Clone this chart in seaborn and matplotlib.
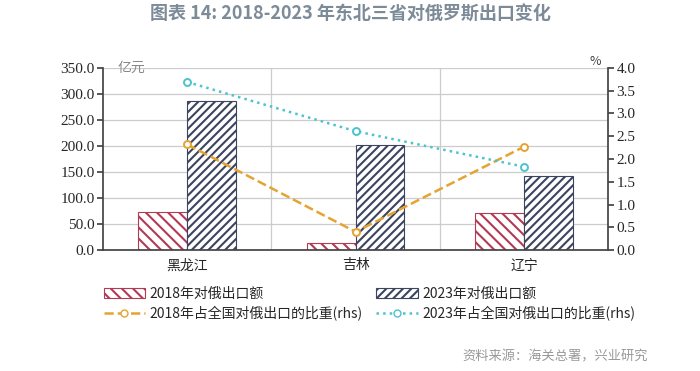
import matplotlib
matplotlib.use("Agg")
import matplotlib.pyplot as plt
import pandas as pd
import seaborn as sns
from matplotlib.patches import Patch
from matplotlib.lines import Line2D

provinces = ["黑龙江", "吉林", "辽宁"]
export_2018 = [73.0, 14.0, 72.0]
export_2023 = [287.0, 201.0, 143.0]
share_2018 = [2.32, 0.40, 2.27]
share_2023 = [3.69, 2.61, 1.83]

left_ticks = [0, 50, 100, 150, 200, 250, 300, 350]
right_ticks = [0, 0.5, 1.0, 1.5, 2.0, 2.5, 3.0, 3.5, 4.0]

RED = "#b23a55"
NAVY = "#3b4560"
ORANGE = "#e5a432"
CYAN = "#4cc3cf"
GRID = "#cccccc"
TITLE_GRAY = "#7d8b99"
HATCH_2018 = "\\\\\\"
HATCH_2023 = "////"

sns.set_theme(style="white")
plt.rcParams["font.family"] = ["Noto Sans CJK SC", "DejaVu Sans"]
plt.rcParams["hatch.linewidth"] = 1.5

df = pd.DataFrame({
    "province": provinces * 2,
    "value": export_2018 + export_2023,
    "series": ["2018年对俄出口额"] * 3 + ["2023年对俄出口额"] * 3,
})

fig = plt.figure(figsize=(7.0, 3.71), dpi=100)
ax = fig.add_axes([0.147, 0.326, 0.722, 0.491])

sns.barplot(data=df, x="province", y="value", hue="series",
            palette=["white", "white"], width=0.58, ax=ax, legend=False,
            saturation=1)

# hatch the bars: red backslashes for 2018, navy slashes for 2023
for i, p in enumerate(ax.patches[:6]):
    color = RED if i < 3 else NAVY
    p.set_hatch(HATCH_2018 if i < 3 else HATCH_2023)
    p.set_edgecolor(color)
    p.set_linewidth(0.8)

ax.set_ylim(0, 350)
ax.set_yticks(left_ticks)
ax.set_yticklabels([f"{t:.1f}" for t in left_ticks], family="Liberation Serif", fontsize=11)
ax.set_xlim(-0.5, 2.5)
ax.set_xticks([0.5, 1.5], minor=False)
ax.set_xticklabels([])
ax.set_xticks([0, 1, 2], minor=True)
ax.set_xticklabels(provinces, minor=True, fontsize=10)
ax.tick_params(axis="x", which="minor", length=0, pad=6)
ax.tick_params(axis="x", which="major", length=4, direction="out", color="#444444")
ax.tick_params(axis="y", length=4, direction="out", color="#444444", pad=2)
ax.set_xlabel("")
ax.set_ylabel("")
ax.grid(axis="y", color=GRID, linewidth=0.9)
ax.grid(axis="x", which="major", color=GRID, linewidth=0.9)
ax.set_axisbelow(True)
for s in ["top", "right"]:
    ax.spines[s].set_visible(False)
ax.spines["left"].set_color("#444444")
ax.spines["bottom"].set_color("#444444")
ax.text(0.03, 1.0, "亿元", transform=ax.transAxes, fontsize=10,
        color="#888888", va="center", ha="left")

ax2 = ax.twinx()
sns.lineplot(x=[0, 1, 2], y=share_2018, ax=ax2, color=ORANGE, linestyle="--",
             linewidth=1.8, marker="o", markersize=5, markerfacecolor="white",
             markeredgecolor=ORANGE, markeredgewidth=1.4)
sns.lineplot(x=[0, 1, 2], y=share_2023, ax=ax2, color=CYAN, linestyle=":",
             linewidth=1.8, marker="o", markersize=5, markerfacecolor="white",
             markeredgecolor=CYAN, markeredgewidth=1.4)
ax2.set_ylim(0, 4.0)
ax2.set_yticks(right_ticks)
ax2.set_yticklabels([f"{t:.1f}" for t in right_ticks], family="Liberation Serif", fontsize=11)
ax2.tick_params(axis="y", length=4, direction="out", color="#444444", pad=2)
ax2.set_ylabel("")
for s in ["top", "left", "bottom"]:
    ax2.spines[s].set_visible(False)
ax2.spines["right"].set_color("#444444")
ax2.grid(False)
ax2.text(0.985, 1.0, "%", transform=ax2.transAxes, fontsize=9,
         color="#444444", va="bottom", ha="right")

handles = [
    Patch(facecolor="white", edgecolor=RED, hatch=HATCH_2018, linewidth=0.8),
    Line2D([], [], color=ORANGE, linestyle="--", linewidth=1.8, marker="o",
           markersize=5, markerfacecolor="white", markeredgecolor=ORANGE),
    Patch(facecolor="white", edgecolor=NAVY, hatch=HATCH_2023, linewidth=0.8),
    Line2D([], [], color=CYAN, linestyle=":", linewidth=1.8, marker="o",
           markersize=5, markerfacecolor="white", markeredgecolor=CYAN),
]
labels = ["2018年对俄出口额", "2018年占全国对俄出口的比重(rhs)",
          "2023年对俄出口额", "2023年占全国对俄出口的比重(rhs)"]
fig.legend(handles, labels, ncol=2, loc="upper left", bbox_to_anchor=(0.13, 0.26),
           frameon=False, fontsize=10, handlelength=3.0, handletextpad=0.3,
           columnspacing=1.0, labelspacing=0.35)

fig.text(0.5, 0.962, "图表 14: 2018-2023 年东北三省对俄罗斯出口变化",
         ha="center", va="center", fontsize=13, fontweight="bold", color=TITLE_GRAY)
fig.text(0.925, 0.038, "资料来源：海关总署，兴业研究", ha="right", va="center",
         fontsize=9.5, color="#999999")

fig.savefig("out.png", dpi=100, facecolor="white")
